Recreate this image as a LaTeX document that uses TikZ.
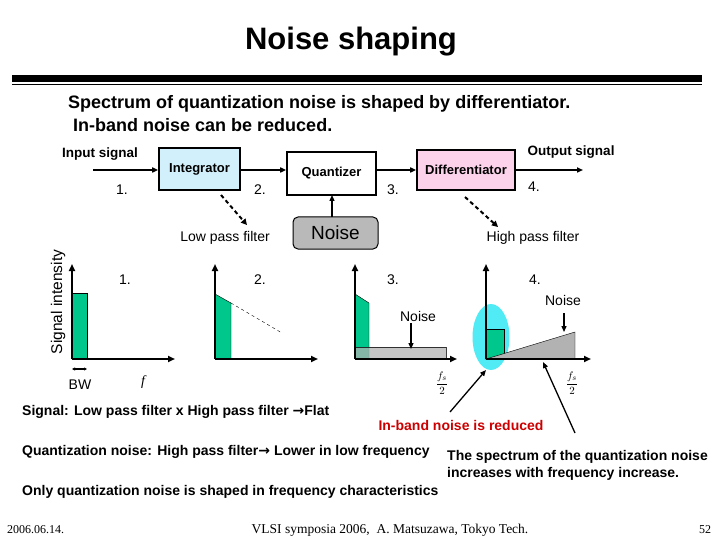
\documentclass[tikz,border=0pt]{standalone}
\usepackage{fontspec}
\setmainfont{Liberation Sans}
\newfontfamily\serifit{Liberation Serif}
\newfontfamily\arr{DejaVu Sans}
\usetikzlibrary{arrows.meta,shapes.geometric}
\definecolor{sgreen}{RGB}{0,200,140}
\definecolor{scyan}{RGB}{80,235,245}
\begin{document}
\begin{tikzpicture}[x=1pt,y=-1pt,
  blk/.style={draw,line width=1.6pt,inner sep=0pt,font=\fontsize{13}{15}\selectfont\bfseries},
  lab/.style={font=\fontsize{13.5}{15}\selectfont\bfseries,inner sep=0pt},
  num/.style={font=\fontsize{14}{16}\selectfont,inner sep=0pt},
  flow/.style={line width=1.6pt,-{Triangle[length=6pt,width=5pt]}},
  ax/.style={line width=2.2pt,-{Triangle[length=7pt,width=6pt]}},
  darr/.style={line width=2pt,dash pattern=on 4pt off 3pt,-{Triangle[length=6pt,width=6pt]}},
  parr/.style={line width=1.3pt,-{Triangle[length=6pt,width=5pt]}},
  fsl/.style={font=\fontsize{11}{13}\selectfont,inner sep=0pt},
  txt/.style={font=\fontsize{14}{17.5}\selectfont\bfseries,inner sep=0pt,anchor=west}]
\useasboundingbox (0,0) rectangle (720,540);
\fill[white] (0,0) rectangle (720,540);
\node[font=\fontsize{31}{34}\selectfont\bfseries] (title) at (351,42) {Noise shaping};
\coordinate (la) at (12,78.5); \coordinate (lb) at (702,78.5);
\coordinate (lc) at (12,84.5); \coordinate (ld) at (702,84.5);
\draw[line width=6.5pt] (la) -- (lb);
\draw[line width=0.8pt] (lc) -- (ld);
\node[font=\fontsize{18}{20}\selectfont\bfseries,anchor=west,inner sep=0pt] (s1) at (68,104) {Spectrum of quantization noise is shaped by differentiator.};
\node[font=\fontsize{18}{20}\selectfont\bfseries,anchor=west,inner sep=0pt] (s2) at (73,125) {In-band noise can be reduced.};
% block diagram
\node[lab] (in) at (100,154) {Input signal};
\node[lab] (out) at (571,152) {Output signal};
\node[blk,fill=cyan!18,minimum width=81pt,minimum height=42pt] (int) at (199.5,169) {Integrator};
\node[blk,fill=white,minimum width=89pt,minimum height=43pt] (q) at (331.5,173.5) {Quantizer};
\node[blk,fill=magenta!18,minimum width=98pt,minimum height=40pt] (dif) at (466,170) {Differentiator};
\coordinate (ins) at (93,170); \coordinate (oute) at (583,170);
\draw[flow] (ins) -- (int.west|-ins);
\draw[flow] (int.east|-ins) -- (q.west|-ins);
\draw[flow] (q.east|-ins) -- (dif.west|-ins);
\draw[flow] (dif.east|-ins) -- (oute);
\node[num] (n1) at (122,190) {1.};
\node[num] (n2) at (260,190) {2.};
\node[num] (n3) at (393,190) {3.};
\node[num] (n4) at (534,187) {4.};
\node[draw,line width=1pt,fill=gray!55,rounded corners=5pt,minimum width=85pt,minimum height=32pt,font=\fontsize{19}{21}\selectfont] (noise) at (335.5,233) {Noise};
\coordinate (nt) at (332,217); \coordinate (qb) at (332,195);
\draw[line width=1.3pt,-{Triangle[length=6pt,width=5pt]}] (nt) -- (qb);
\node[num] (lpf) at (225,238) {Low pass filter};
\node[num] (hpf) at (533,238) {High pass filter};
\coordinate (d1a) at (221,195); \coordinate (d1b) at (247,225);
\coordinate (d2a) at (465,197); \coordinate (d2b) at (498,227);
\draw[darr] (d1a) -- (d1b);
\draw[darr] (d2a) -- (d2b);
\node[font=\fontsize{15.5}{17}\selectfont,rotate=90] (si) at (58,302) {Signal intensity};
% graph 1
\fill[sgreen,draw=black,thin] (72,293) rectangle (87,359);
\coordinate (o1) at (72,359);
\draw[ax] (o1) -- (72,264);
\draw[ax] (o1) -- (175,359);
\node[num] (g1) at (125,280) {1.};
\draw[line width=1.2pt,{Triangle[length=3pt,width=3pt]}-{Triangle[length=3pt,width=3pt]}] (72,369) -- (87,369);
\node[num] (bw) at (80,385) {BW};
\node[font=\fontsize{14}{16}\selectfont\serifit\itshape] (f) at (143,382) {f};
% graph 2
\fill[sgreen,draw=black,thin] (215,294) -- (231,303) -- (231,359) -- (215,359) -- cycle;
\draw[dashed,thin] (231,303) -- (282,333);
\coordinate (o2) at (215,359);
\draw[ax] (o2) -- (215,264);
\draw[ax] (o2) -- (318,359);
\node[num] (g2) at (260,280) {2.};
% graph 3
\fill[sgreen,draw=black,thin] (355,294) -- (369,303) -- (369,359) -- (355,359) -- cycle;
\fill[gray!60,opacity=0.75,draw=black,thin] (355,347) rectangle (446,359);
\coordinate (o3) at (355,359);
\draw[ax] (o3) -- (355,264);
\draw[ax] (o3) -- (457,359);
\node[num] (g3) at (393,280) {3.};
\node[num] (nz3) at (418,316) {Noise};
\draw[parr] (411,323) -- (411,349);
\node[fsl] (fs1) at (442,383) {$\displaystyle\frac{f_s}{2}$};
% graph 4
\fill[scyan] (491,337) ellipse (18.5pt and 33pt);
\fill[sgreen,draw=black,thin] (486,329) rectangle (504,359);
\fill[gray!60,draw=black,thin] (486,359) -- (575,332) -- (575,359) -- cycle;
\coordinate (o4) at (486,359);
\draw[ax] (o4) -- (486,264);
\draw[ax] (o4) -- (591,359);
\node[num] (g4) at (535,280) {4.};
\node[num] (nz4) at (563,300) {Noise};
\draw[parr] (564,313) -- (564,332);
\node[fsl] (fs2) at (572,383) {$\displaystyle\frac{f_s}{2}$};
% notes
\node[txt] (sig) at (22,412) {Signal: Low pass filter x High pass filter {\arr\symbol{"2192}}Flat};
\node[font=\fontsize{14}{16}\selectfont\bfseries,text=red!80!black,inner sep=0pt] (inb) at (461,425) {In-band noise is reduced};
\coordinate (pa) at (450,412); \coordinate (pb) at (486,370);
\draw[parr] (pa) -- (pb);
\coordinate (sp) at (575,433); \coordinate (sq) at (543,362);
\draw[parr] (sp) -- (sq);
\node[txt] (qn) at (22,452) {Quantization noise: High pass filter{\arr\symbol{"2192}} Lower in low frequency};
\node[txt,align=left,anchor=north west] (spec) at (447,450) {The spectrum of the quantization noise\\increases with frequency increase.};
\node[txt] (only) at (22,492) {Only quantization noise is shaped in frequency characteristics};
\node[font=\fontsize{12}{14}\selectfont\serifit,anchor=west,inner sep=0pt] (date) at (7,530) {2006.06.14.};
\node[font=\fontsize{13.5}{15}\selectfont\serifit,inner sep=0pt] (foot) at (390,530) {VLSI symposia 2006,\ \ A. Matsuzawa, Tokyo Tech.};
\node[font=\fontsize{12}{14}\selectfont\serifit,inner sep=0pt] (pg) at (705,530) {52};
\end{tikzpicture}
\end{document}
